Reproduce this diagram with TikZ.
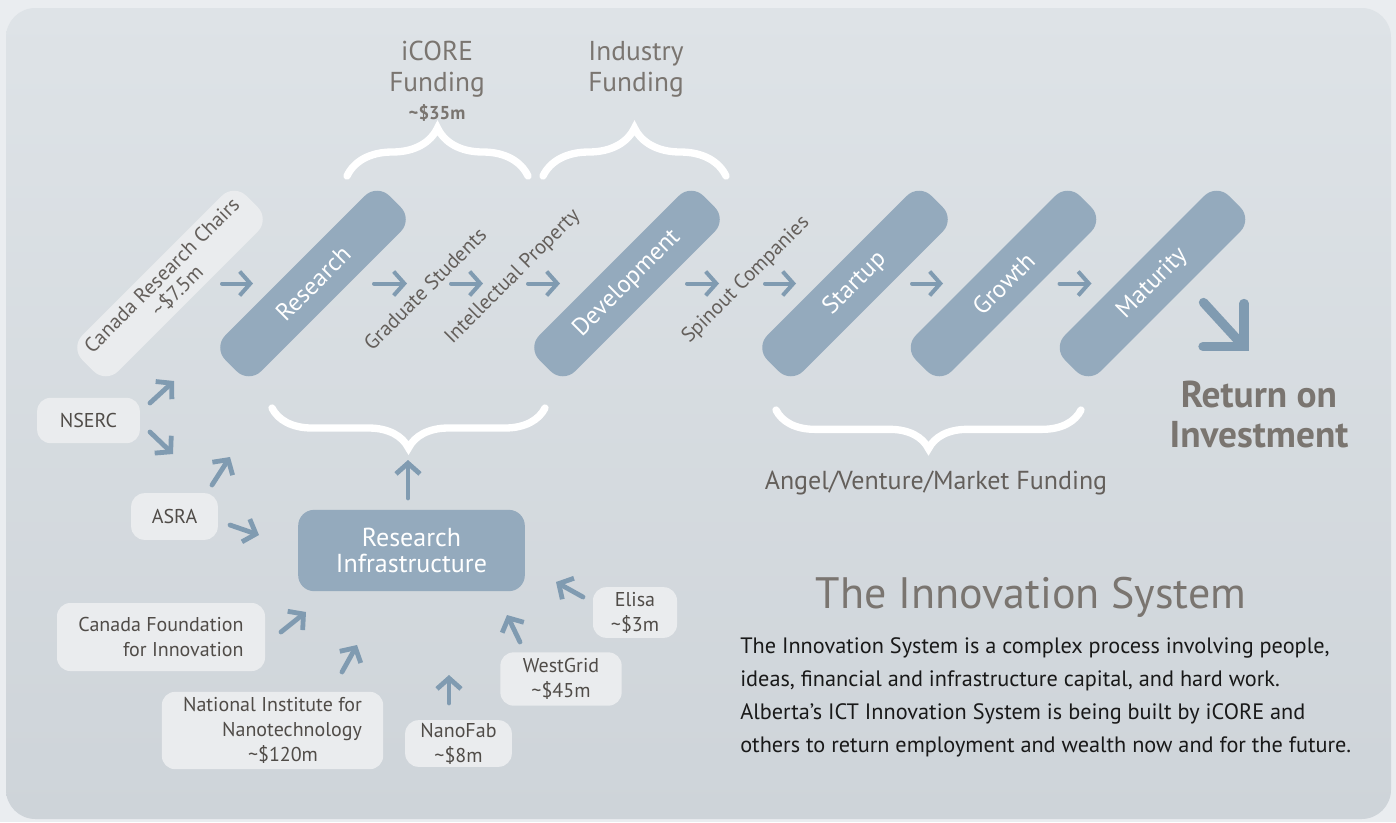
\documentclass[tikz,border=0pt]{standalone}
\usepackage{fontspec}
\setmainfont{PT Sans}
\usetikzlibrary{calc,arrows.meta,decorations.pathreplacing}

\definecolor{outerbg}{RGB}{234,237,240}
\definecolor{paneltop}{RGB}{222,227,231}
\definecolor{panelbot}{RGB}{206,212,217}
\definecolor{pillblue}{RGB}{148,170,189}
\definecolor{arrowblue}{RGB}{128,155,177}
\definecolor{boxlight}{RGB}{234,236,238}
\definecolor{boxtext}{RGB}{80,76,72}
\definecolor{labelgray}{RGB}{100,95,91}
\definecolor{headgray}{RGB}{122,117,112}
\definecolor{bodytext}{RGB}{25,25,25}

\begin{document}
\begin{tikzpicture}[x=0.75pt,y=-0.75pt,
  stage/.style={fill=pillblue, rounded corners=13pt, minimum width=174pt,
    minimum height=38pt, inner sep=0pt, rotate=45, text=white,
    font=\fontsize{18.5}{20}\selectfont},
  chairs/.style={stage, fill=boxlight, text=labelgray, align=center,
    font=\fontsize{15.5}{16.5}\selectfont},
  source/.style={fill=boxlight, rounded corners=10pt, inner sep=0pt,
    text=boxtext, font=\fontsize{15}{18.75}\selectfont},
  infra/.style={fill=pillblue, rounded corners=12pt, inner sep=0pt,
    text=white, align=center, font=\fontsize{19.5}{19}\selectfont},
  lbl/.style={rotate=45, inner sep=0pt, text=labelgray,
    font=\fontsize{15.5}{18}\selectfont},
  flow/.style={draw=arrowblue, line width=3pt, line cap=round,
    -{Straight Barb[length=8pt,width=18pt]}},
  feed/.style={flow, line width=3.6pt},
  bracket/.style={draw=white, line width=5.5pt, line cap=round, decorate,
    decoration={brace, amplitude=#1}},
  head/.style={text=headgray, align=center, font=\fontsize{20.5}{23}\selectfont}
]
\useasboundingbox (0,0) rectangle (1396,822);

% background panel
\fill[outerbg] (0,0) rectangle (1396,822);
\shade[top color=paneltop, bottom color=panelbot, rounded corners=22pt]
  (6,8) rectangle (1391,819);

% stages of the innovation pipeline
\node[chairs]  (chairs)   at (170,283.5)  {Canada Research Chairs\\\textasciitilde\$7.5m};
\node[stage]   (research) at (313,283.5)  {Research};
\node[stage]   (develop)  at (627,283.5)  {Development};
\node[stage]   (startup)  at (855,283.5)  {Startup};
\node[stage]   (growth)   at (1003.5,283.5) {Growth};
\node[stage]   (maturity) at (1152.5,283.5) {Maturity};

% outputs passed between stages
\node[lbl] (grads)    at (425,289) {Graduate Students};
\node[lbl] (ip)       at (513,277) {Intellectual Property};
\node[lbl] (spinout)  at (746,280) {Spinout Companies};

% pipeline arrows
\draw[flow] ($(chairs)+(52,0)$)    -- ($(research)+(-60,0)$);
\draw[flow] ($(research)+(61,0)$)  -- ($(research)+(94,0)$);
\draw[flow] ($(research)+(138,0)$) -- ($(research)+(170,0)$);
\draw[flow] ($(develop)+(-99,0)$)  -- ($(develop)+(-67,0)$);
\draw[flow] ($(develop)+(60,0)$)   -- ($(develop)+(92,0)$);
\draw[flow] ($(startup)+(-90,0)$)  -- ($(startup)+(-59,0)$);
\draw[flow] ($(startup)+(57,0)$)   -- ($(startup)+(88,0)$);
\draw[flow] ($(growth)+(56,0)$)    -- ($(growth)+(88,0)$);

% return on investment arrow
\coordinate (roitip) at ($(maturity)+(91.5,63)$);
\draw[draw=arrowblue, line width=7pt, line cap=round]
  ($(maturity)+(51,19)$) -- ($(roitip)+(-3,-3)$);
\draw[draw=arrowblue, line width=7pt, line cap=round, line join=miter]
  ($(roitip)+(-41,0)$) -- (roitip) -- ($(roitip)+(0,-43)$);
\node[font=\bfseries\fontsize{28}{30}\selectfont, text=headgray, align=center]
  (roi) at (1259,414) {Return on\\Investment};

% funding braces
\draw[bracket=36pt] (347,176) -- (528,176);
\draw[bracket=36pt] (543,176) -- (726,176);
\draw[bracket=30pt] (545,408) -- (272,408);
\draw[bracket=29pt] (1081,410) -- (776,410);

\node[head] (icore) at (437,69) {iCORE\\Funding};
\node[text=headgray, font=\bfseries\fontsize{14}{16}\selectfont] (icoreamt) at (437,113) {\textasciitilde\$35m};
\node[head] (industry) at (636,69) {Industry\\Funding};
\node[text=labelgray, font=\fontsize{19.5}{22}\selectfont] (angel) at (936,483)
  {Angel/Venture/Market Funding};

% research infrastructure and its sources
\node[infra, minimum width=170pt, minimum height=61pt] (infra) at (411.5,550.5)
  {Research\\Infrastructure};
\node[source, minimum width=77pt, minimum height=34pt] (nserc) at (88.5,420.5) {NSERC};
\node[source, minimum width=65pt, minimum height=35pt] (asra) at (174.5,516.5) {ASRA};
\node[source, minimum width=156pt, minimum height=51pt, align=right] (cfi) at (161,637)
  {Canada Foundation\\for Innovation};
\node[source, minimum width=166pt, minimum height=58pt, align=right] (nint) at (272.5,730.5)
  {National Institute for\\Nanotechnology\\\textasciitilde\$120m\hspace*{33pt}};
\node[source, minimum width=80pt, minimum height=35pt, align=center] (nanofab) at (458.5,743.5)
  {NanoFab\\\textasciitilde\$8m};
\node[source, minimum width=91pt, minimum height=40pt, align=center] (westgrid) at (561,679)
  {WestGrid\\\textasciitilde\$45m};
\node[source, minimum width=63pt, minimum height=38pt, align=center] (elisa) at (635,612.5)
  {Elisa\\\textasciitilde\$3m};

\draw[feed] ($(nserc)+(61.5,-17.5)$)  -- ($(nserc)+(85.5,-39.5)$);
\draw[feed] ($(nserc)+(61.5,11.5)$)   -- ($(nserc)+(84.5,33.5)$);
\draw[feed] ($(asra)+(37.5,-31.5)$)   -- ($(asra)+(55.5,-59.5)$);
\draw[feed] ($(asra)+(55.5,8.5)$)     -- ($(asra)+(84.5,18.5)$);
\draw[feed] ($(infra)+(-3.5,-52.5)$)  -- ($(infra)+(-3.5,-90.5)$);
\draw[feed] ($(cfi)+(120,-5)$)        -- ($(cfi)+(145,-25)$);
\draw[feed] ($(nint)+(69.5,-58.5)$)   -- ($(nint)+(84.5,-85.5)$);
\draw[feed] ($(nanofab)+(-9.5,-40.5)$) -- ($(nanofab)+(-9.5,-68.5)$);
\draw[feed] ($(westgrid)+(-41,-37)$)  -- ($(westgrid)+(-54,-64)$);
\draw[feed] ($(elisa)+(-52,-15.5)$)   -- ($(elisa)+(-79,-30.5)$);

% title and description
\node[text=headgray, font=\fontsize{33}{36}\selectfont] (title) at (1031,597)
  {The Innovation System};
\node[anchor=north west, inner sep=0pt, align=left, text=bodytext,
      font=\fontsize{16.7}{24.75}\selectfont] (body) at (740,637)
  {The Innovation System is a complex process involving people,\\
   ideas, financial and infrastructure capital, and hard work.\\
   Alberta's ICT Innovation System is being built by iCORE and\\
   others to return employment and wealth now and for the future.};
\end{tikzpicture}
\end{document}
